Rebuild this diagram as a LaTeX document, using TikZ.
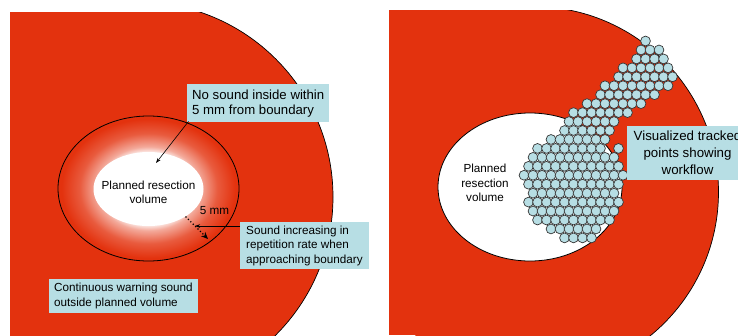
\documentclass[tikz,border=0pt]{standalone}
\usepackage{fontspec}
\setmainfont{Liberation Sans}
\usetikzlibrary{arrows.meta}

\definecolor{warnred}{RGB}{227,50,14}
\definecolor{boxblue}{RGB}{183,222,228}
\definecolor{dotline}{RGB}{55,55,55}

% white core fading into the red margin
\pgfdeclareradialshading{marginshade}{\pgfpoint{0bp}{0bp}}{%
  color(0bp)=(white); color(12bp)=(white); color(14.5bp)=(warnred!42);
  color(19bp)=(warnred!80); color(24bp)=(warnred); color(50bp)=(warnred)}

\begin{document}
\begin{tikzpicture}[x=1pt, y=-1pt,
    labelbox/.style={fill=boxblue, align=left, inner xsep=5pt, inner ysep=0pt,
                     anchor=north west, font=\fontsize{11.7}{14.5}\selectfont},
    plaintext/.style={align=center, font=\fontsize{11.7}{14.3}\selectfont},
    trackdot/.style={fill=boxblue, draw=dotline, line width=0.7pt},
    pointer/.style={line width=0.6pt, -{Stealth[length=5pt, width=3.5pt]}}]
    \useasboundingbox (0,0) rectangle (738,335);

    % Left panel - red volume with warning zone
    \begin{scope}
        \clip (10,12) rectangle (370,335);
        \fill[warnred] (10,12) rectangle (138,335);
        \fill[warnred] (138,197) circle (195);
        \clip (138,0) rectangle (370,340);
        \draw[line width=0.7pt] (138,197) circle (195);
    \end{scope}
    \shade[shading=marginshade] (148.5,188.5) ellipse [x radius=90.5, y radius=72.5];
    \draw[line width=0.8pt] (148.5,188.5) ellipse [x radius=90.5, y radius=72.5];
    \fill[white] (148.5,189) ellipse [x radius=55, y radius=37];

    \node[plaintext] (planleft) at (148.5,192) {Planned resection\\volume};
    \node[plaintext] (fivemm) at (214.5,211) {5 mm};

    \node[labelbox, minimum height=38pt, font=\fontsize{13.2}{15}\selectfont]
        (nosound) at (187,84) {No sound inside within\\5 mm from boundary};
    \node[labelbox, inner xsep=6pt, minimum height=47pt]
        (rate) at (240,222) {Sound increasing in\\repetition rate when\\approaching boundary};
    \node[labelbox, minimum height=34pt]
        (warning) at (49,279) {Continuous warning sound\\outside planned volume};

    \coordinate (core) at (156,163);
    \coordinate (gapstart) at (186,217);
    \coordinate (gapend) at (208,239);
    \coordinate (ratetip) at (195,226);

    \draw[pointer] ([shift={(1.5,-1)}]nosound.south west) -- (core);
    \draw[line width=1.7pt, line cap=round, dash pattern=on 0pt off 3.4pt,
          -{Stealth[length=7pt, width=6pt]}] (gapstart) -- (gapend);
    \draw[pointer] (rate.west |- ratetip) -- (ratetip);

    % Right panel - tracked points
    \begin{scope}
        \clip (389,10) rectangle (738,335);
        \fill[warnred] (389,10) rectangle (533,335);
        \fill[warnred] (533,192) circle (185.5);
        \clip (533,0) rectangle (738,340);
        \draw[line width=0.7pt] (533,192) circle (185.5);
    \end{scope}
    \fill[white, draw=black, line width=0.8pt] (530,187) ellipse [x radius=92, y radius=74];
    \node[plaintext] (planright) at (485,183) {Planned\\resection\\volume};

    % row / first column / last column (half steps)
    \foreach \r/\a/\b in {1/27/27, 2/26/30, 3/25/31, 4/22/32, 5/21/33, 6/18/32,
                          7/17/29, 8/14/26, 9/11/23, 10/10/20, 11/9/19, 12/6/18,
                          13/3/17, 13/21/21, 14/2/20, 15/1/21, 16/0/22, 17/1/21,
                          18/2/20, 19/1/21, 20/2/20, 21/3/19, 22/6/16, 23/9/15}
        \foreach \c in {\a,...,\b} {
            \ifodd\numexpr\c-\a\relax\else
                \filldraw[trackdot] ({524+4.5*\c},{41+8.95*(\r-1)}) circle (4.9);
            \fi
        };

    \node[labelbox, align=center, inner xsep=6.5pt, minimum height=54pt,
          font=\fontsize{13.3}{17}\selectfont]
        (trackbox) at (627,126) {Visualized tracked\\points showing\\workflow};
\end{tikzpicture}
\end{document}
